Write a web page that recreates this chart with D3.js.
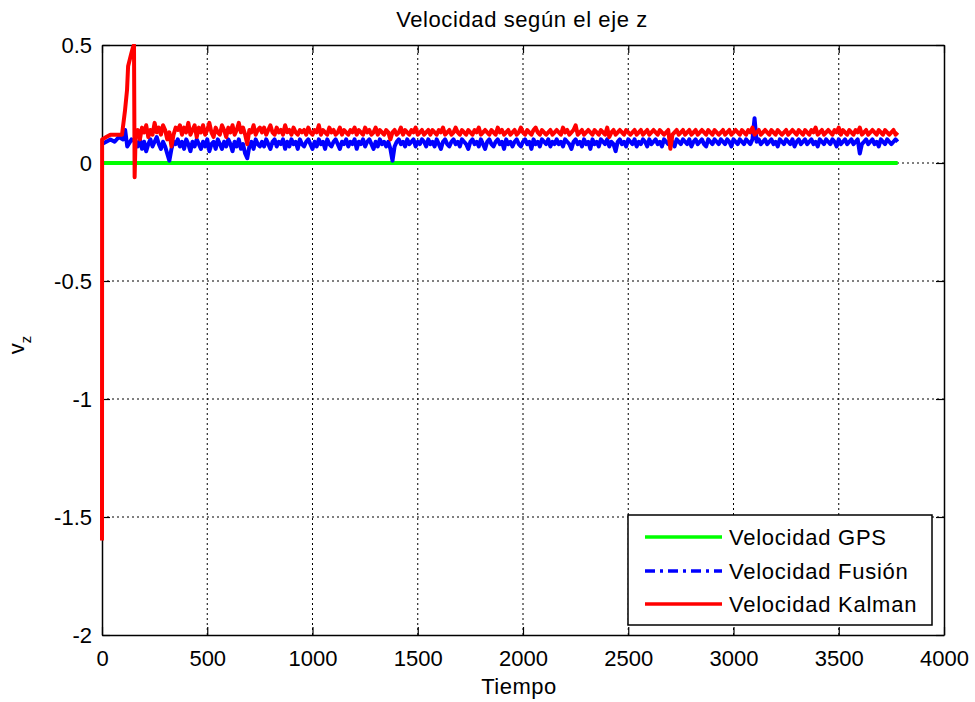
<!DOCTYPE html>
<html>
<head>
<meta charset="utf-8">
<script src="https://cdn.jsdelivr.net/npm/d3@7"></script>
<style>
  body { margin: 0; background: #fff; }
  svg { display: block; font-family: "Liberation Sans", Arial, sans-serif; }
</style>
</head>
<body>
<svg id="chart" width="975" height="702"></svg>
<script>
"use strict";

var xTicks = [0, 500, 1000, 1500, 2000, 2500, 3000, 3500, 4000];
var yTicks = [-2, -1.5, -1, -0.5, 0, 0.5];
var seriesNames = ["Velocidad GPS", "Velocidad Fusión", "Velocidad Kalman"];

// GPS velocity
var gpsT = [0, 3780];
var gpsV = [0, 0];

// opening part of the Kalman and fusion estimates
var kalmanStartT = [0, 0.5, 20, 40, 60, 80, 95, 109, 119, 124, 138, 147, 152, 155];
var kalmanStartV = [-1.6, 0.1, 0.11, 0.12, 0.12, 0.12, 0.12, 0.22, 0.31, 0.41, 0.46, 0.49, 0.5, -0.06];
var fusionStartT = [0, 20, 40, 60, 80, 100, 110, 120, 140];
var fusionStartV = [0.08, 0.09, 0.10, 0.09, 0.11, 0.10, 0.14, 0.07, 0.10];

// steady part, one sample every 10 time units from t = 160 (20 per row)
var sampleStep = 10;
var sampleStart = 160;
var kalmanV = [
  0.12,0.14,0.10,0.15,0.13,0.16,0.11,0.14,0.12,0.17,0.13,0.15,0.12,0.16,0.14,0.10,0.13,0.07,0.12,0.15,
  0.14,0.16,0.12,0.15,0.13,0.17,0.12,0.14,0.16,0.11,0.15,0.13,0.16,0.12,0.14,0.17,0.13,0.11,0.15,0.13,
  0.12,0.16,0.14,0.11,0.15,0.13,0.16,0.12,0.14,0.17,0.13,0.15,0.12,0.08,0.14,0.13,0.16,0.12,0.14,0.15,
  0.13,0.15,0.12,0.14,0.16,0.13,0.12,0.15,0.13,0.14,0.12,0.16,0.13,0.14,0.12,0.15,0.13,0.12,0.14,0.13,
  0.14,0.12,0.15,0.13,0.12,0.14,0.13,0.16,0.12,0.14,0.13,0.12,0.15,0.13,0.14,0.12,0.13,0.15,0.12,0.14,
  0.13,0.12,0.14,0.13,0.15,0.12,0.14,0.13,0.12,0.15,0.13,0.14,0.12,0.13,0.15,0.12,0.14,0.13,0.12,0.14,
  0.13,0.10,0.13,0.14,0.12,0.13,0.15,0.12,0.14,0.13,0.12,0.14,0.13,0.15,0.12,0.13,0.14,0.12,0.13,0.14,
  0.12,0.14,0.13,0.12,0.14,0.13,0.15,0.12,0.13,0.14,0.12,0.13,0.15,0.13,0.12,0.14,0.13,0.12,0.14,0.13,
  0.12,0.14,0.13,0.15,0.12,0.13,0.14,0.13,0.12,0.14,0.13,0.12,0.15,0.13,0.14,0.12,0.13,0.14,0.12,0.13,
  0.14,0.12,0.13,0.15,0.13,0.12,0.14,0.13,0.12,0.14,0.15,0.13,0.12,0.14,0.13,0.12,0.13,0.14,0.12,0.13,
  0.14,0.13,0.12,0.15,0.13,0.14,0.12,0.13,0.14,0.16,0.12,0.13,0.14,0.12,0.13,0.14,0.13,0.12,0.14,0.13,
  0.12,0.14,0.13,0.12,0.15,0.11,0.13,0.14,0.12,0.13,0.14,0.13,0.12,0.14,0.13,0.12,0.13,0.14,0.12,0.13,
  0.14,0.12,0.13,0.14,0.12,0.13,0.14,0.13,0.12,0.14,0.13,0.12,0.13,0.14,0.06,0.12,0.13,0.14,0.12,0.13,
  0.14,0.12,0.13,0.14,0.12,0.13,0.14,0.12,0.13,0.14,0.13,0.12,0.14,0.13,0.12,0.14,0.13,0.12,0.13,0.14,
  0.12,0.13,0.14,0.12,0.13,0.14,0.13,0.12,0.14,0.13,0.12,0.14,0.13,0.15,0.12,0.13,0.14,0.12,0.13,0.14,
  0.13,0.12,0.14,0.13,0.12,0.14,0.13,0.12,0.13,0.14,0.12,0.13,0.14,0.13,0.12,0.14,0.13,0.12,0.14,0.13,
  0.12,0.14,0.13,0.15,0.12,0.13,0.14,0.12,0.13,0.14,0.13,0.12,0.14,0.13,0.15,0.12,0.14,0.13,0.12,0.14,
  0.13,0.12,0.14,0.13,0.15,0.12,0.13,0.14,0.12,0.13,0.14,0.13,0.12,0.14,0.13,0.12,0.14,0.13,0.12,0.13,
  0.14,0.12,0.13
];
var fusionV = [
  0.09,0.07,0.10,0.06,0.09,0.05,0.08,0.10,0.07,0.09,0.11,0.08,0.06,0.09,0.07,0.04,0.01,0.06,0.09,0.08,
  0.10,0.07,0.09,0.06,0.10,0.08,0.05,0.09,0.07,0.10,0.08,0.06,0.09,0.07,0.10,0.05,0.08,0.09,0.06,0.10,
  0.08,0.06,0.09,0.07,0.10,0.08,0.05,0.09,0.07,0.10,0.06,0.08,0.04,0.02,0.07,0.09,0.06,0.10,0.08,0.07,
  0.09,0.07,0.10,0.08,0.06,0.09,0.10,0.07,0.09,0.08,0.10,0.06,0.09,0.07,0.10,0.08,0.09,0.06,0.10,0.08,
  0.07,0.09,0.10,0.08,0.06,0.09,0.07,0.10,0.08,0.09,0.06,0.10,0.08,0.07,0.09,0.10,0.08,0.06,0.09,0.08,
  0.10,0.07,0.09,0.08,0.10,0.06,0.09,0.08,0.10,0.07,0.09,0.10,0.08,0.06,0.09,0.07,0.10,0.08,0.09,0.07,
  0.09,0.06,0.01,0.07,0.09,0.10,0.08,0.09,0.07,0.10,0.08,0.09,0.10,0.07,0.09,0.08,0.10,0.09,0.07,0.10,
  0.08,0.09,0.07,0.10,0.08,0.06,0.09,0.10,0.08,0.07,0.09,0.10,0.08,0.09,0.07,0.10,0.09,0.08,0.06,0.09,
  0.10,0.08,0.09,0.07,0.10,0.08,0.06,0.09,0.10,0.08,0.07,0.09,0.10,0.08,0.09,0.06,0.10,0.08,0.09,0.07,
  0.09,0.10,0.08,0.07,0.09,0.10,0.08,0.09,0.06,0.10,0.08,0.09,0.07,0.10,0.09,0.08,0.10,0.07,0.09,0.08,
  0.10,0.08,0.09,0.07,0.10,0.09,0.08,0.06,0.09,0.10,0.08,0.09,0.07,0.10,0.08,0.09,0.06,0.10,0.08,0.09,
  0.07,0.10,0.09,0.08,0.10,0.07,0.09,0.08,0.05,0.09,0.10,0.08,0.09,0.07,0.10,0.09,0.08,0.10,0.07,0.09,
  0.08,0.10,0.09,0.07,0.10,0.08,0.09,0.10,0.08,0.09,0.07,0.10,0.09,0.08,0.10,0.09,0.07,0.10,0.09,0.08,
  0.10,0.09,0.08,0.10,0.07,0.09,0.10,0.08,0.09,0.10,0.08,0.07,0.10,0.09,0.08,0.10,0.09,0.08,0.10,0.09,
  0.08,0.10,0.09,0.07,0.10,0.09,0.08,0.10,0.09,0.08,0.10,0.09,0.08,0.10,0.19,0.09,0.10,0.08,0.09,0.10,
  0.08,0.09,0.10,0.08,0.09,0.07,0.10,0.09,0.08,0.10,0.09,0.08,0.10,0.07,0.09,0.10,0.08,0.09,0.10,0.08,
  0.09,0.10,0.08,0.09,0.07,0.10,0.09,0.08,0.10,0.09,0.08,0.10,0.09,0.07,0.10,0.08,0.09,0.10,0.08,0.09,
  0.10,0.08,0.09,0.10,0.04,0.08,0.09,0.10,0.08,0.09,0.10,0.08,0.09,0.07,0.10,0.09,0.08,0.10,0.09,0.08,
  0.09,0.10,0.09
];

var margin = { top: 45, right: 31, bottom: 67, left: 102 };
var width = 975, height = 702;
var svg = d3.select("#chart");
var x = d3.scaleLinear().domain([0, 4000]).range([margin.left, width - margin.right]);
var y = d3.scaleLinear().domain([-2, 0.5]).range([height - margin.bottom, margin.top]);

function pairs(ts, vs) {
  return ts.map(function (t, i) { return [t, vs[i]]; });
}
function steady(vs) {
  return vs.map(function (v, i) { return [sampleStart + i * sampleStep, v]; });
}

var gpsData = pairs(gpsT, gpsV);
var fusionData = pairs(fusionStartT, fusionStartV).concat(steady(fusionV));
var kalmanData = pairs(kalmanStartT, kalmanStartV).concat(steady(kalmanV));

var font = "Liberation Sans, Arial, sans-serif";

// grid
var grid = svg.append("g").attr("stroke", "#000").attr("stroke-width", 1).attr("stroke-dasharray", "2,3");
grid.selectAll(".gx").data(xTicks.slice(1, -1)).enter().append("line")
  .attr("x1", function (d) { return x(d); }).attr("x2", function (d) { return x(d); })
  .attr("y1", y.range()[0]).attr("y2", y.range()[1]);
grid.selectAll(".gy").data(yTicks.slice(1, -1)).enter().append("line")
  .attr("y1", function (d) { return y(d); }).attr("y2", function (d) { return y(d); })
  .attr("x1", x.range()[0]).attr("x2", x.range()[1]);

// axes with inward ticks on all four sides
var tickLen = 8;
function noLabels() { return ""; }
function plain(d) { return String(d); }
svg.append("g").attr("transform", "translate(0," + y.range()[0] + ")")
  .call(d3.axisBottom(x).tickValues(xTicks).tickSizeInner(-tickLen).tickSizeOuter(0).tickPadding(15).tickFormat(plain));
svg.append("g").attr("transform", "translate(0," + y.range()[1] + ")")
  .call(d3.axisTop(x).tickValues(xTicks).tickSizeInner(-tickLen).tickSizeOuter(0).tickFormat(noLabels));
svg.append("g").attr("transform", "translate(" + x.range()[0] + ",0)")
  .call(d3.axisLeft(y).tickValues(yTicks).tickSizeInner(-tickLen).tickSizeOuter(0).tickPadding(10).tickFormat(plain));
svg.append("g").attr("transform", "translate(" + x.range()[1] + ",0)")
  .call(d3.axisRight(y).tickValues(yTicks).tickSizeInner(-tickLen).tickSizeOuter(0).tickFormat(noLabels));

svg.selectAll(".domain").attr("stroke", "#000").attr("stroke-width", 1.5);
svg.selectAll(".tick line").attr("stroke", "#000").attr("stroke-width", 1.2);
svg.selectAll(".tick text").attr("font-size", 22).attr("fill", "#000").attr("font-family", font);

// series, drawn over the axis frame
svg.append("clipPath").attr("id", "plot-clip").append("rect")
  .attr("x", x.range()[0] - 3).attr("y", y.range()[1] - 1)
  .attr("width", x.range()[1] - x.range()[0] + 3).attr("height", y.range()[0] - y.range()[1] + 2);

var line = d3.line().x(function (d) { return x(d[0]); }).y(function (d) { return y(d[1]); });
var plot = svg.append("g").attr("clip-path", "url(#plot-clip)").attr("fill", "none")
  .attr("stroke-linejoin", "round");
plot.append("path").datum(gpsData).attr("d", line).attr("stroke", "#00ff00").attr("stroke-width", 4);
plot.append("path").datum(fusionData).attr("d", line).attr("stroke", "#0000ff").attr("stroke-width", 4);
plot.append("path").datum(kalmanData).attr("d", line).attr("stroke", "#ff0000").attr("stroke-width", 4);

// titles
svg.append("text").attr("x", 522).attr("y", 27).attr("text-anchor", "middle")
  .attr("font-size", 22).attr("letter-spacing", 0.6).text("Velocidad según el eje z");
svg.append("text").attr("x", 519).attr("y", 694).attr("text-anchor", "middle")
  .attr("font-size", 22).attr("letter-spacing", 0.5).text("Tiempo");
var yl = svg.append("text").attr("transform", "translate(24,345) rotate(-90)").attr("text-anchor", "middle")
  .attr("font-size", 22);
yl.append("tspan").text("v");
yl.append("tspan").attr("font-size", 15).attr("dy", 7).text("z");

// legend
var legend = svg.append("g").attr("transform", "translate(628,515)");
legend.append("rect").attr("width", 304).attr("height", 110)
  .attr("fill", "#fff").attr("stroke", "#000").attr("stroke-width", 1.5);
var legendColors = ["#00ff00", "#0000ff", "#ff0000"];
var legendDash = [null, "10,5,3,5", null];
var rowY = [22, 56, 89];
seriesNames.forEach(function (name, i) {
  legend.append("line").attr("x1", 17).attr("x2", 94).attr("y1", rowY[i]).attr("y2", rowY[i])
    .attr("stroke", legendColors[i]).attr("stroke-width", 3.5).attr("stroke-dasharray", legendDash[i]);
  legend.append("text").attr("x", 101).attr("y", rowY[i] + 8).attr("font-size", 22)
    .attr("letter-spacing", 0.75).text(name);
});
</script>
</body>
</html>
